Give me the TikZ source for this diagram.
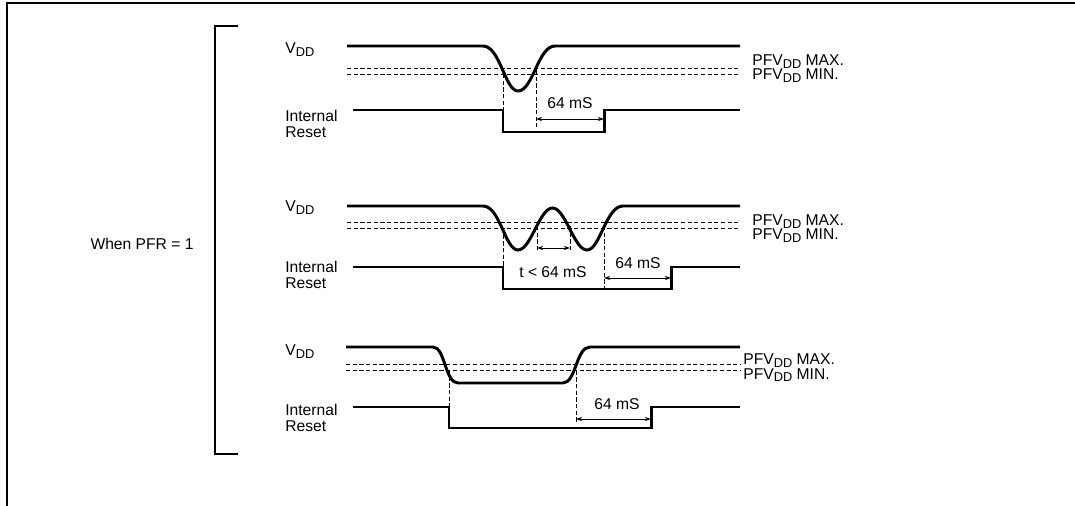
\documentclass[tikz,border=0pt]{standalone}
\usepackage{fontspec}
\setmainfont{Liberation Sans}
\usetikzlibrary{arrows.meta}
\newcommand{\lowdd}{\raisebox{-0.25ex}{\fontsize{7.3}{7.3}\selectfont DD}}

\begin{document}
\begin{tikzpicture}[x=0.02cm, y=-0.02cm, >={Stealth[length=3.5pt,width=2.4pt]},
  font=\fontsize{8.9}{9.2}\selectfont,
  wave/.style={line width=1.7pt},
  frame/.style={line width=1.1pt},
  level/.style={line width=0.5pt, dash pattern=on 2.4pt off 1.4pt},
  span/.style={<->, line width=0.5pt},
  lbl/.style={inner sep=0pt, anchor=base west},
  twoline/.style={inner sep=0pt, anchor=west, align=left}]
\useasboundingbox (0,0) rectangle (1075,506);

% frame and bracket
\draw[frame] (7,506) -- (7,3) -- (1075,3);
\draw[frame] (238,26) -- (215,26) -- (215,454) -- (238,454);
\node[inner sep=0pt] (pfr) at (142,244) {When PFR = 1};

% single dip
\node[lbl] (vdda) at (285,54) {V\lowdd};
\node[twoline] (rsta) at (285,124) {Internal\\Reset};
\draw[level] (347,68) -- (740,68);
\draw[level] (347,74) -- (740,74);
\draw[wave] (347,46) -- (483,46) .. controls (500,46) and (505,91) .. (518,91)
  .. controls (533,91) and (538,46) .. (555,46) -- (740,46);
\draw[wave] (353,110) -- (503,110) -- (503,132) -- (604,132) -- (604,110) -- (740,110);
\draw[level] (503,74) -- (503,110);
\draw[level] (536,70) -- (536,127);
\draw[span] (536,119) -- (604,119);
\node (ta) at (570,103) {64 mS};
\node[lbl] (maxa) at (752,66) {PFV\lowdd{} MAX.};
\node[lbl] (mina) at (752,80) {PFV\lowdd{} MIN.};

% two dips
\node[lbl] (vddb) at (285,212) {V\lowdd};
\node[twoline] (rstb) at (285,275) {Internal\\Reset};
\draw[level] (347,222) -- (740,222);
\draw[level] (347,228) -- (740,228);
\draw[wave] (347,206) -- (483,206) .. controls (500,206) and (505,250) .. (518,250)
  .. controls (531,250) and (539.5,208) .. (552.5,208)
  .. controls (565.5,208) and (574,250) .. (587,250)
  .. controls (600,250) and (606,206) .. (623,206) -- (740,206);
\draw[wave] (353,267) -- (503,267) -- (503,289) -- (671,289) -- (671,267) -- (740,267);
\draw[level] (503,228) -- (503,267);
\draw[level] (537,226) -- (537,252);
\draw[level] (570,226) -- (570,252);
\draw[level] (604,226) -- (604,289);
\draw[span] (537,248) -- (570,248);
\draw[span] (604,278) -- (671,278);
\node (tb) at (553,272) {t < 64 mS};
\node (tc) at (638,263) {64 mS};
\node[lbl] (maxb) at (752,226) {PFV\lowdd{} MAX.};
\node[lbl] (minb) at (752,240) {PFV\lowdd{} MIN.};

% long drop
\node[lbl] (vddc) at (285,356) {V\lowdd};
\node[twoline] (rstc) at (285,418) {Internal\\Reset};
\draw[level] (346,364) -- (740,364);
\draw[level] (346,370) -- (740,370);
\draw[wave] (346,347) -- (433,347) .. controls (445,347) and (445,383) .. (458,383)
  -- (563,383) .. controls (576,383) and (576,347) .. (590,347) -- (740,347);
\draw[wave] (353,407) -- (449,407) -- (449,428) -- (651,428) -- (651,407) -- (740,407);
\draw[level] (449,370) -- (449,407);
\draw[level] (576,364) -- (576,423);
\draw[span] (576,419) -- (651,419);
\node (td) at (617,404) {64 mS};
\node[lbl] (maxc) at (743,365) {PFV\lowdd{} MAX.};
\node[lbl] (minc) at (743,379) {PFV\lowdd{} MIN.};
\end{tikzpicture}
\end{document}
